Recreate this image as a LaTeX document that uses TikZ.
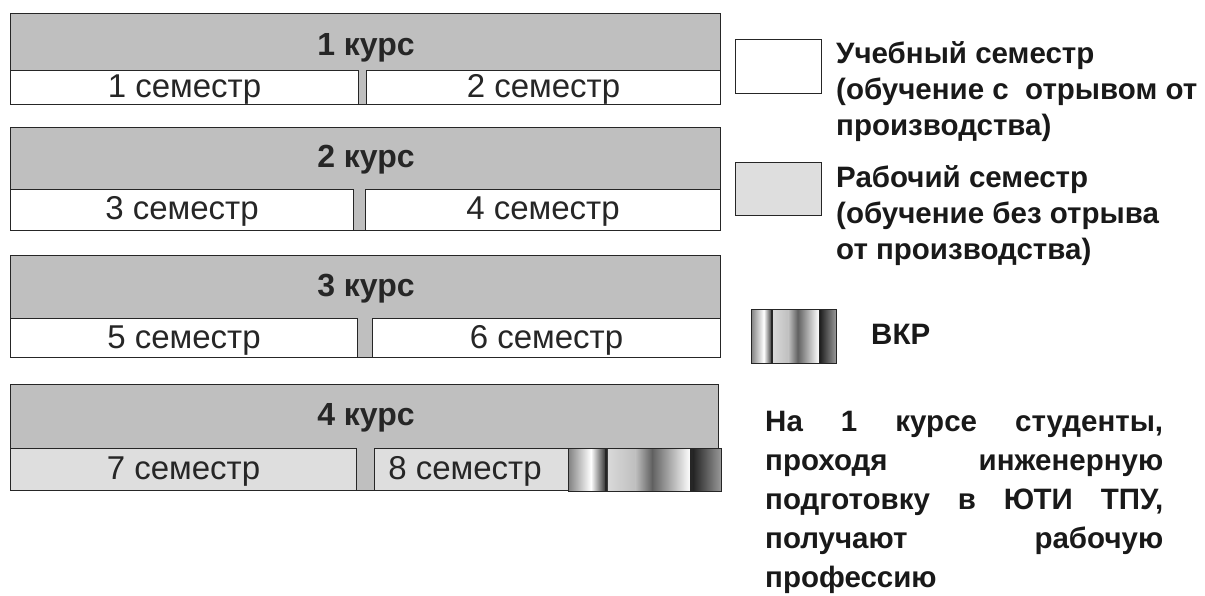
\documentclass[tikz,border=0pt]{standalone}
\usepackage{fontspec}
\setmainfont{Liberation Sans}
\definecolor{headgray}{gray}{0.75}
\definecolor{workgray}{gray}{0.87}
\definecolor{edge}{gray}{0.15}
\newcommand\vkrstripes[4]{%
  \begin{scope}[shift={(#1,#2)},xscale=#3,yscale=#4]
    \shade[left color=black!50, right color=white] (0,0) rectangle (0.15,1);
    \shade[left color=white, right color=black!75] (0.15,0) rectangle (0.24,1);
    \fill[black!85] (0.24,0) rectangle (0.26,1);
    \shade[left color=black!15, right color=black!25] (0.26,0) rectangle (0.44,1);
    \shade[left color=black!25, right color=black!62] (0.44,0) rectangle (0.55,1);
    \shade[left color=black!62, right color=white] (0.55,0) rectangle (0.8,1);
    \fill[black!85] (0.8,0) rectangle (0.82,1);
    \shade[left color=black!85, right color=black!40] (0.82,0) rectangle (1,1);
  \end{scope}}
\tikzset{
  box/.style={draw=edge, line width=1pt, inner sep=0pt, anchor=north west},
  courseblock/.style={box, fill=headgray},
  coursetitle/.style={inner sep=0pt, text height=23pt, text depth=0pt,
    font=\fontsize{32}{36}\selectfont\bfseries, text=black!85},
  semfont/.style={font=\fontsize{33}{36}\selectfont, text=black!85,
    text height=20pt, text depth=0pt},
  sem/.style={box, fill=white, semfont},
  worksem/.style={sem, fill=workgray},
  legendbox/.style={box, line width=1pt},
  legendtext/.style={anchor=north west, inner sep=0pt, align=left,
    font=\fontsize{29.5}{36}\selectfont\bfseries, text=black!90},
}
\begin{document}
\begin{tikzpicture}[x=1pt,y=-1pt]
\useasboundingbox (0,0) rectangle (1205,596);
% course 1
\node[courseblock, minimum width=710, minimum height=91] (c1) at (10,13) {};
\node[coursetitle] (t1) at (366,44) {1 курс};
\node[sem, minimum width=348, minimum height=34] (s1) at (10,70) {1 семестр};
\node[sem, minimum width=354, minimum height=34] (s2) at (366,70) {2 семестр};
% course 2
\node[courseblock, minimum width=710, minimum height=103] (c2) at (10,127) {};
\node[coursetitle] (t2) at (366,156) {2 курс};
\node[sem, minimum width=343, minimum height=41] (s3) at (10,189) {3 семестр};
\node[sem, minimum width=355, minimum height=41] (s4) at (365,189) {4 семестр};
% course 3
\node[courseblock, minimum width=710, minimum height=102] (c3) at (10,255) {};
\node[coursetitle] (t3) at (366,285) {3 курс};
\node[sem, minimum width=347, minimum height=39] (s5) at (10,318) {5 семестр};
\node[sem, minimum width=348, minimum height=39] (s6) at (372,318) {6 семестр};
% course 4
\node[courseblock, minimum width=708, minimum height=106] (c4) at (10,384) {};
\node[coursetitle] (t4) at (366,414) {4 курс};
\node[worksem, minimum width=346, minimum height=42] (s7) at (10,448) {7 семестр};
\node[worksem, minimum width=194, minimum height=42] (s8) at (374,448) {};
\node[semfont, anchor=center, inner sep=0pt] (s8t) at (465,469) {8 семестр};
\vkrstripes{568}{448}{153}{43}
\node[box, minimum width=153, minimum height=43] (vkr) at (568,448) {};
% legend
\node[legendbox, fill=white, minimum width=86, minimum height=54] (l1) at (735,39) {};
\node[legendtext] (l1t) at (836,41) {Учебный семестр\\(обучение с\ \ отрывом от\\производства)};
\node[legendbox, fill=workgray, minimum width=86, minimum height=53] (l2) at (735,162) {};
\node[legendtext] (l2t) at (836,165) {Рабочий семестр\\(обучение без отрыва\\от производства)};
\vkrstripes{751}{309}{85}{54}
\node[legendbox, minimum width=85, minimum height=54] (l3) at (751,309) {};
\node[legendtext, anchor=base west] (l3t) at (871,344) {ВКР};
% note
\node[legendtext, anchor=north west, font=\fontsize{29.5}{39}\selectfont\bfseries] (note) at (765,411) {%
\makebox[398pt][s]{На 1 курсе студенты,}\\
\makebox[398pt][s]{проходя инженерную}\\
\makebox[398pt][s]{подготовку в ЮТИ ТПУ,}\\
\makebox[398pt][s]{получают рабочую}\\
профессию};
\end{tikzpicture}
\end{document}
